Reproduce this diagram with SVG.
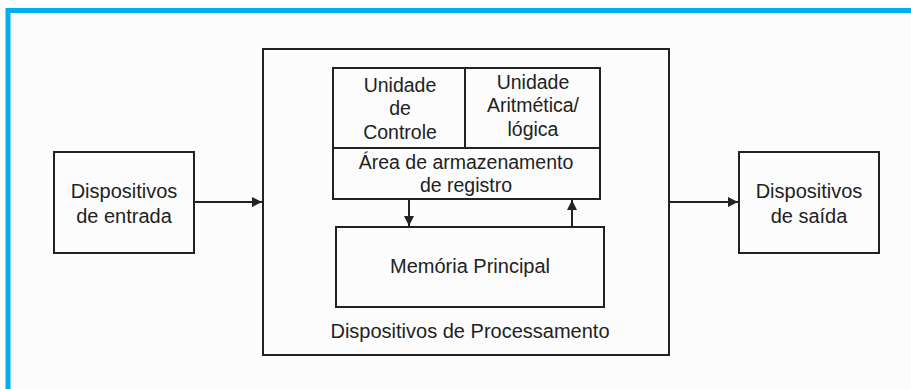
<svg xmlns="http://www.w3.org/2000/svg" width="911" height="389" viewBox="0 0 911 389">
<style>
.box{fill:none;stroke:#222;stroke-width:2}
.t{font-family:"Liberation Sans",Arial,sans-serif;font-size:20px;fill:#222;text-anchor:middle}
.ti{font-family:"Liberation Sans",Arial,sans-serif;font-size:19.5px;fill:#222;text-anchor:middle}
.ln{stroke:#222;stroke-width:2;fill:none}
</style>
<defs>
<marker id="ah" viewBox="0 0 10 10" refX="10" refY="5" markerWidth="10" markerHeight="10" markerUnits="userSpaceOnUse" orient="auto">
<path d="M0,0 L10,5 L0,10 z" fill="#222"/>
</marker>
</defs>
<rect x="0" y="0" width="911" height="389" fill="#ffffff"/>
<rect x="8" y="10" width="903" height="379" fill="#fcfcfc"/>
<path d="M8,389 V10.5 H911" fill="none" stroke="#00aeef" stroke-width="5"/>

<g id="entrada">
<rect class="box" x="54" y="152" width="140" height="101"/>
<text class="t" x="124" y="198">Dispositivos</text>
<text class="t" x="124" y="223">de entrada</text>
</g>

<g id="processamento">
<rect class="box" x="263" y="49" width="406" height="306"/>
<text class="t" x="470" y="338">Dispositivos de Processamento</text>
</g>

<g id="controle">
<rect class="box" x="333" y="68" width="132" height="80"/>
<text class="ti" x="400" y="92">Unidade</text>
<text class="ti" x="400" y="115">de</text>
<text class="ti" x="400" y="139">Controle</text>
</g>

<g id="ula">
<rect class="box" x="465" y="68" width="135" height="80"/>
<text class="ti" x="533" y="89">Unidade</text>
<text class="ti" x="533" y="112">Aritmética/</text>
<text class="ti" x="533" y="136">lógica</text>
</g>

<g id="registro">
<rect class="box" x="333" y="148" width="267" height="51"/>
<text class="ti" x="466" y="169">Área de armazenamento</text>
<text class="ti" x="466" y="192">de registro</text>
</g>

<g id="memoria">
<rect class="box" x="336" y="227" width="268" height="80"/>
<text class="t" x="470" y="273">Memória Principal</text>
</g>

<g id="saida">
<rect class="box" x="739" y="152" width="140" height="101"/>
<text class="t" x="809" y="198">Dispositivos</text>
<text class="t" x="809" y="223">de saída</text>
</g>

<g id="connectors">
<line class="ln" x1="194" y1="202" x2="262" y2="202" marker-end="url(#ah)"/>
<line class="ln" x1="669" y1="202" x2="738" y2="202" marker-end="url(#ah)"/>
<line class="ln" x1="409" y1="199" x2="409" y2="226" marker-end="url(#ah)"/>
<line class="ln" x1="572" y1="227" x2="572" y2="200" marker-end="url(#ah)"/>
</g>
</svg>
